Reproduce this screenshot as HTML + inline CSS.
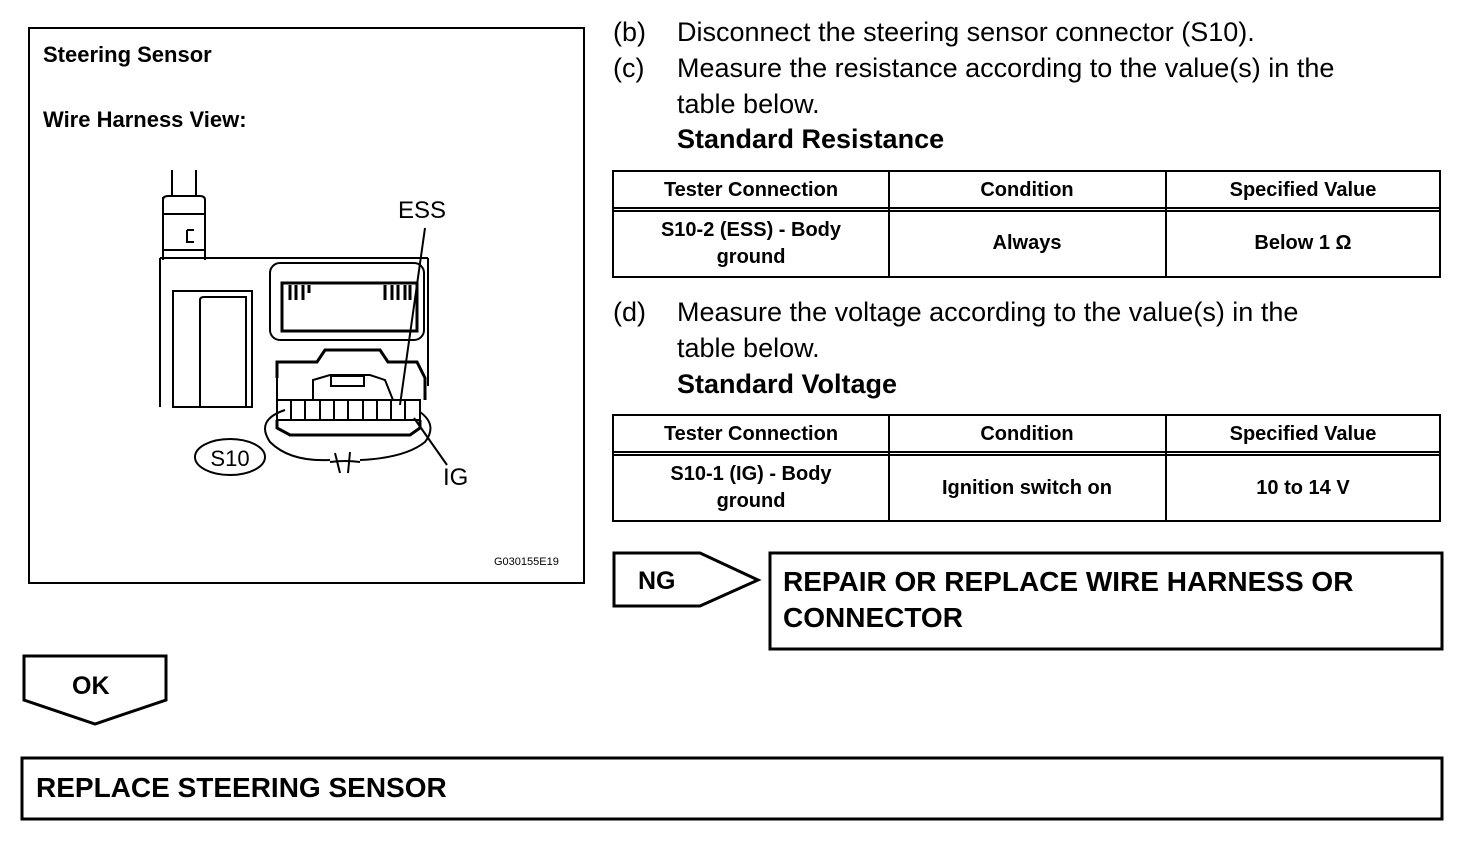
<!DOCTYPE html>
<html><head><meta charset="utf-8"><style>
html,body{margin:0;padding:0;background:#fff}
svg{display:block}
text{font-family:"Liberation Sans",Arial,sans-serif;fill:#000}
.b{font-weight:bold}
</style></head><body>
<svg width="1472" height="858" viewBox="0 0 1472 858" xmlns="http://www.w3.org/2000/svg">
<g fill="none" stroke="#000">
<rect x="29" y="28" width="555" height="555" stroke-width="2"/>
<!-- drawing -->
<g stroke-width="2">
<line x1="172" y1="170" x2="172" y2="197"/><line x1="196" y1="170" x2="196" y2="197"/>
<path d="M163 197 L163 260 M205 200 L205 260 M163 200 Q163 196 168 196 L200 196 Q205 196 205 200"/>
<line x1="163" y1="214" x2="205" y2="214"/><line x1="163" y1="250" x2="205" y2="250"/>
<path d="M187 230 L187 242 L194 242 M187 230 L194 230"/>
<line x1="160" y1="258" x2="428" y2="258"/>
<line x1="160" y1="258" x2="160" y2="407"/>
<line x1="428" y1="258" x2="428" y2="386"/>
<rect x="173" y="291" width="79" height="116"/>
<path d="M200 407 L200 300 Q200 297 204 297 L246 297 L246 407"/>
<rect x="270" y="263" width="154" height="77" rx="10"/>
<rect x="282" y="283" width="135" height="48" stroke-width="3"/>
<path d="M290 285 v15 M296 285 v15 M303 285 v15 M309 285 v8 M385 285 v15 M392 285 v15 M398 285 v15 M405 285 v15 M410 285 v15" stroke-width="3"/>
<path d="M277 378 L277 362 L317 362 L325 350 L380 350 L388 362 L417 362 L425 378 L425 400" stroke-width="3"/>
<path d="M277 378 L277 400"/>
<path d="M313 400 L313 380 L330 375 L370 375 L385 380 L393 400"/>
<rect x="331" y="376" width="33" height="10"/>
<rect x="277" y="400" width="143" height="20"/>
<path d="M291 400v20M305 400v20M320 400v20M334 400v20M348 400v20M363 400v20M377 400v20M391 400v20M405 400v20"/>
<path d="M277 420 L277 428 L290 435 L410 435 L420 428 L420 420" stroke-width="3"/>
<path d="M285 410 Q255 420 270 442 Q290 462 330 460 M360 460 Q405 458 425 442 Q438 425 420 412"/>
<path d="M335 453 L340 473 M350 452 L348 473 M330 462 Q345 460 360 462"/>
<ellipse cx="230" cy="457" rx="35" ry="18"/>
<line x1="425" y1="228" x2="400" y2="405"/>
<line x1="414" y1="418" x2="447" y2="465"/>
</g>
<!-- tables -->
<g stroke-width="2">
<rect x="613" y="171" width="827" height="106"/>
<line x1="613" y1="208" x2="1440" y2="208"/>
<line x1="613" y1="211" x2="1440" y2="211"/>
<line x1="889" y1="171" x2="889" y2="277"/><line x1="1166" y1="171" x2="1166" y2="277"/>
<rect x="613" y="415" width="827" height="106"/>
<line x1="613" y1="452" x2="1440" y2="452"/>
<line x1="613" y1="455" x2="1440" y2="455"/>
<line x1="889" y1="415" x2="889" y2="521"/><line x1="1166" y1="415" x2="1166" y2="521"/>
</g>
<polygon points="614,553 700,553 758,580 700,606 614,606" stroke-width="3"/>
<rect x="770" y="553" width="672" height="96" stroke-width="3"/>
<polygon points="24,656 166,656 166,700 95,724 24,700" stroke-width="3"/>
<rect x="22" y="758" width="1420" height="61" stroke-width="3"/>
</g>
<text x="43" y="62" class="b" font-size="22">Steering Sensor</text>
<text x="43" y="127" class="b" font-size="22">Wire Harness View:</text>
<text x="398" y="218" font-size="24">ESS</text>
<text x="443" y="485" font-size="24">IG</text>
<text x="230" y="466" font-size="22" text-anchor="middle">S10</text>
<text x="494" y="565" font-size="11">G030155E19</text>
<g font-size="27">
<text x="613" y="41">(b)</text><text x="677" y="41">Disconnect the steering sensor connector (S10).</text>
<text x="613" y="77">(c)</text><text x="677" y="77">Measure the resistance according to the value(s) in the</text>
<text x="677" y="113">table below.</text>
<text x="677" y="148" class="b">Standard Resistance</text>
<text x="613" y="321">(d)</text><text x="677" y="321">Measure the voltage according to the value(s) in the</text>
<text x="677" y="357">table below.</text>
<text x="677" y="393" class="b">Standard Voltage</text>
</g>
<g font-size="20" class="b" text-anchor="middle">
<text x="751" y="196">Tester Connection</text><text x="1027" y="196">Condition</text><text x="1303" y="196">Specified Value</text>
<text x="751" y="236">S10-2 (ESS) - Body</text><text x="751" y="263">ground</text>
<text x="1027" y="249">Always</text><text x="1303" y="249">Below 1 Ω</text>
<text x="751" y="440">Tester Connection</text><text x="1027" y="440">Condition</text><text x="1303" y="440">Specified Value</text>
<text x="751" y="480">S10-1 (IG) - Body</text><text x="751" y="507">ground</text>
<text x="1027" y="494">Ignition switch on</text><text x="1303" y="494">10 to 14 V</text>
</g>
<text x="638" y="589" class="b" font-size="25">NG</text>
<text x="783" y="591" class="b" font-size="28">REPAIR OR REPLACE WIRE HARNESS OR</text>
<text x="783" y="627" class="b" font-size="28">CONNECTOR</text>
<text x="72" y="694" class="b" font-size="25">OK</text>
<text x="36" y="797" class="b" font-size="28">REPLACE STEERING SENSOR</text>
</svg>
</body></html>
